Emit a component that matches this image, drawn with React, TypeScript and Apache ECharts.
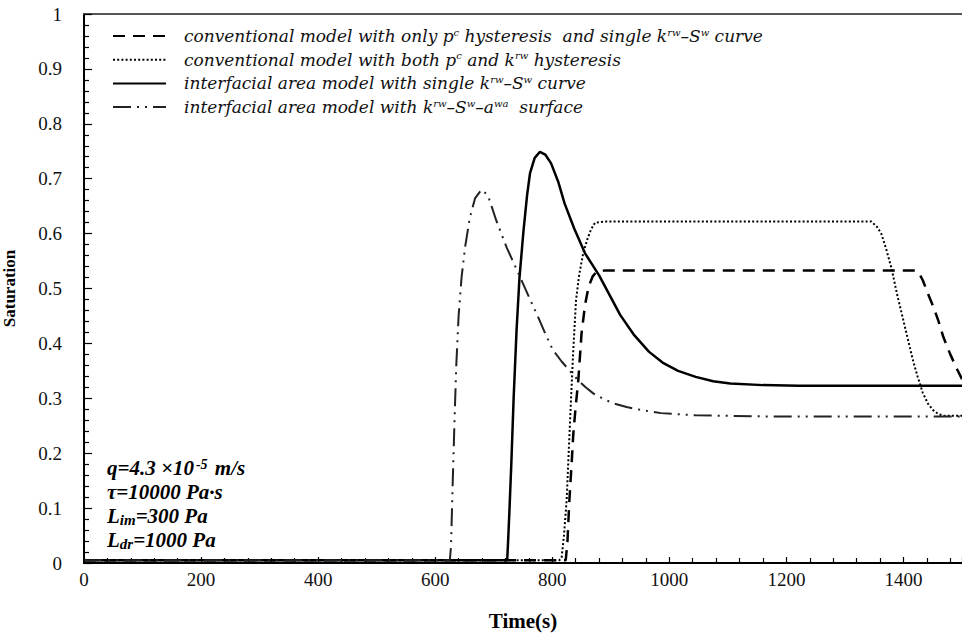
import React, { useEffect, useRef } from "react";
import * as echarts from "echarts";

// ---- data (time in s, saturation) ----
const seriesNames = [
  "conventional model with only pc hysteresis and single krw-Sw curve",
  "conventional model with both pc and krw hysteresis",
  "interfacial area model with single krw-Sw curve",
  "interfacial area model with krw-Sw-awa surface",
];

const legendRich: string[] = [
  "conventional model with only p{sup|c} hysteresis  and single k{sup|rw}–S{sup|w} curve",
  "conventional model with both p{sup|c} and k{sup|rw} hysteresis",
  "interfacial area model with single k{sup|rw}–S{sup|w} curve",
  "interfacial area model with k{sup|rw}–S{sup|w}–a{sup|wa}  surface",
];

const dashedData: number[][] = [
  [0, 0.005], [823, 0.005], [826, 0.04], [829, 0.11], [833, 0.18], [836, 0.236],
  [840, 0.285], [844.5, 0.333], [850, 0.418], [856, 0.47], [862, 0.503],
  [869, 0.522], [876, 0.531], [890, 0.533], [1200, 0.533], [1421, 0.533],
  [1428, 0.525], [1433, 0.515], [1442, 0.49], [1451, 0.467], [1460, 0.44],
  [1468, 0.412], [1480, 0.38], [1492, 0.352], [1500, 0.335],
];

const dottedData: number[][] = [
  [0, 0.005], [812, 0.005], [816, 0.01], [820, 0.05], [824.6, 0.115], [828, 0.2],
  [832, 0.297], [836, 0.39], [840.6, 0.479], [846, 0.525], [853, 0.565],
  [860, 0.59], [866, 0.607], [873, 0.62], [890, 0.622], [1100, 0.622], [1345, 0.622],
  [1355, 0.612], [1362, 0.6], [1371, 0.57], [1380, 0.535], [1389, 0.49],
  [1398, 0.45], [1407, 0.41], [1416, 0.37], [1424, 0.34], [1433, 0.31],
  [1442, 0.29], [1451, 0.278], [1460, 0.271], [1470, 0.268], [1500, 0.268],
];

const solidData: number[][] = [
  [0, 0.005], [723, 0.005], [725, 0.05], [727, 0.1], [730, 0.18], [734, 0.3],
  [739, 0.424], [744, 0.52], [751, 0.607], [757, 0.67], [762, 0.71], [770, 0.738],
  [779, 0.749], [788, 0.744], [798, 0.728], [810, 0.695], [821, 0.655],
  [838, 0.608], [856, 0.564], [880, 0.524], [898, 0.488], [916, 0.452],
  [940, 0.415], [965, 0.385], [990, 0.364], [1015, 0.35], [1045, 0.339],
  [1075, 0.331], [1104, 0.327], [1160, 0.324], [1221, 0.323], [1500, 0.323],
];

const dashDotData: number[][] = [
  [0, 0.005], [625, 0.005], [627, 0.03], [630, 0.15], [633, 0.26], [636, 0.36],
  [640, 0.45], [645, 0.52], [651, 0.575], [659, 0.628], [668, 0.664], [679, 0.68],
  [690, 0.67], [704, 0.625], [722, 0.575], [742, 0.528], [760, 0.485], [775, 0.45],
  [788, 0.418], [801, 0.388], [816, 0.367], [830, 0.35], [844, 0.333],
  [857, 0.32], [870, 0.309], [887, 0.299], [904, 0.291], [927, 0.284],
  [955, 0.278], [986, 0.273], [1045, 0.269], [1162, 0.267], [1300, 0.267],
  [1500, 0.267],
];

const annotationLines: string[] = [
  "q=4.3 ×10{sup|-5} m/s",
  "τ=10000 Pa·s",
  "L{sub|im}=300 Pa",
  "L{sub|dr}=1000 Pa",
];

const SERIF = "Liberation Serif";
const LEG_FONT = "DejaVu Serif";

export default function App() {
  const ref = useRef<HTMLDivElement>(null);
  useEffect(() => {
    const chart = echarts.init(ref.current!, null, { renderer: "svg" });
    const lineStyles = [
      { color: "#000", width: 2.5, type: [12, 8] },
      { color: "#000", width: 2, type: [2, 2.2] },
      { color: "#000", width: 2.5, type: "solid" },
      { color: "#222", width: 2, type: [18, 6, 2, 6, 2, 6] },
    ];
    const datas = [dashedData, dottedData, solidData, dashDotData];
    const annoRich = {
      sup: { fontSize: 14, fontFamily: SERIF, fontStyle: "italic", fontWeight: "bold", verticalAlign: "top", lineHeight: 8, fill: "#000", padding: [0, 2, 0, 2] },
      sub: { fontSize: 15, fontFamily: SERIF, fontStyle: "italic", fontWeight: "bold", verticalAlign: "bottom", lineHeight: 6, fill: "#000" },
    };
    const option: any = {
      animation: false,
      backgroundColor: "#fff",
      grid: { left: 84, right: 0, top: 14, bottom: 72, containLabel: false, outerBoundsMode: "none" },
      legend: {
        orient: "vertical",
        left: 107,
        top: 22,
        itemWidth: 53,
        itemHeight: 18,
        itemGap: 5.7,
        data: seriesNames,
        itemStyle: { opacity: 0 },
        formatter: (name: string) => legendRich[seriesNames.indexOf(name)],
        textStyle: {
          fontFamily: LEG_FONT,
          fontStyle: "italic",
          fontSize: 17,
          color: "#111",
          lineHeight: 18,
          padding: [0, 0, 0, 13],
          rich: {
            sup: { fontFamily: LEG_FONT, fontStyle: "italic", fontSize: 10, color: "#111", verticalAlign: "top", lineHeight: 8 },
          },
        },
      },
      xAxis: [
        {
          type: "value",
          min: 0,
          max: 1500,
          interval: 200,
          name: "Time(s)",
          nameLocation: "middle",
          nameGap: 47,
          nameTextStyle: { fontFamily: SERIF, fontWeight: "bold", fontSize: 21, color: "#000" },
          axisLine: { show: true, lineStyle: { color: "#000", width: 2 } },
          axisTick: { show: true, inside: true, length: 6, lineStyle: { color: "#000", width: 1.2 } },
          minorTick: { show: true, splitNumber: 5, length: 5, lineStyle: { color: "#000", width: 1.2 } },
          axisLabel: {
            margin: 7, fontFamily: SERIF, fontSize: 19, color: "#111", showMaxLabel: false,
            formatter: (v: number) => String(v),
          },
          splitLine: { show: false },
          minorSplitLine: { show: false },
        },
        {
          type: "value",
          position: "top",
          min: 0,
          max: 1500,
          axisLine: { show: true, onZero: false, lineStyle: { color: "#555", width: 2 } },
          axisTick: { show: false },
          axisLabel: { show: false },
          splitLine: { show: false },
        },
      ],
      yAxis: {
        type: "value",
        min: 0,
        max: 1,
        interval: 0.1,
        name: "Saturation",
        nameLocation: "middle",
        nameGap: 66,
        nameRotate: 90,
        nameTextStyle: { fontFamily: SERIF, fontWeight: "bold", fontSize: 17, color: "#000" },
        axisLine: { show: true, lineStyle: { color: "#000", width: 2 } },
        axisTick: { show: true, inside: true, length: 8, lineStyle: { color: "#000", width: 1.2 } },
        minorTick: { show: true, splitNumber: 5, length: 5, lineStyle: { color: "#000", width: 1.2 } },
        axisLabel: {
          margin: 22, fontFamily: SERIF, fontSize: 19, color: "#111",
          formatter: (v: number) => String(Math.round(v * 10) / 10),
        },
        splitLine: { show: false },
      },
      series: seriesNames.map((name, i) => ({
        name,
        type: "line",
        xAxisIndex: 0,
        data: datas[i],
        symbol: "none",
        showSymbol: false,
        smooth: false,
        color: "#000",
        lineStyle: lineStyles[i],
        z: 3 + i,
      })),
      graphic: annotationLines.map((txt, i) => ({
        type: "text",
        x: 107,
        y: 457 + i * 24,
        style: {
          text: txt,
          fontFamily: SERIF,
          fontStyle: "italic",
          fontWeight: "bold",
          fontSize: 21,
          lineHeight: 22,
          fill: "#000",
          rich: annoRich,
        },
        z: 10,
      })),
    };
    chart.setOption(option);
    return () => chart.dispose();
  }, []);
  return (
    <div
      ref={ref}
      style={{ position: "fixed", left: 0, top: 0, width: 962, height: 635, background: "#fff" }}
    />
  );
}
